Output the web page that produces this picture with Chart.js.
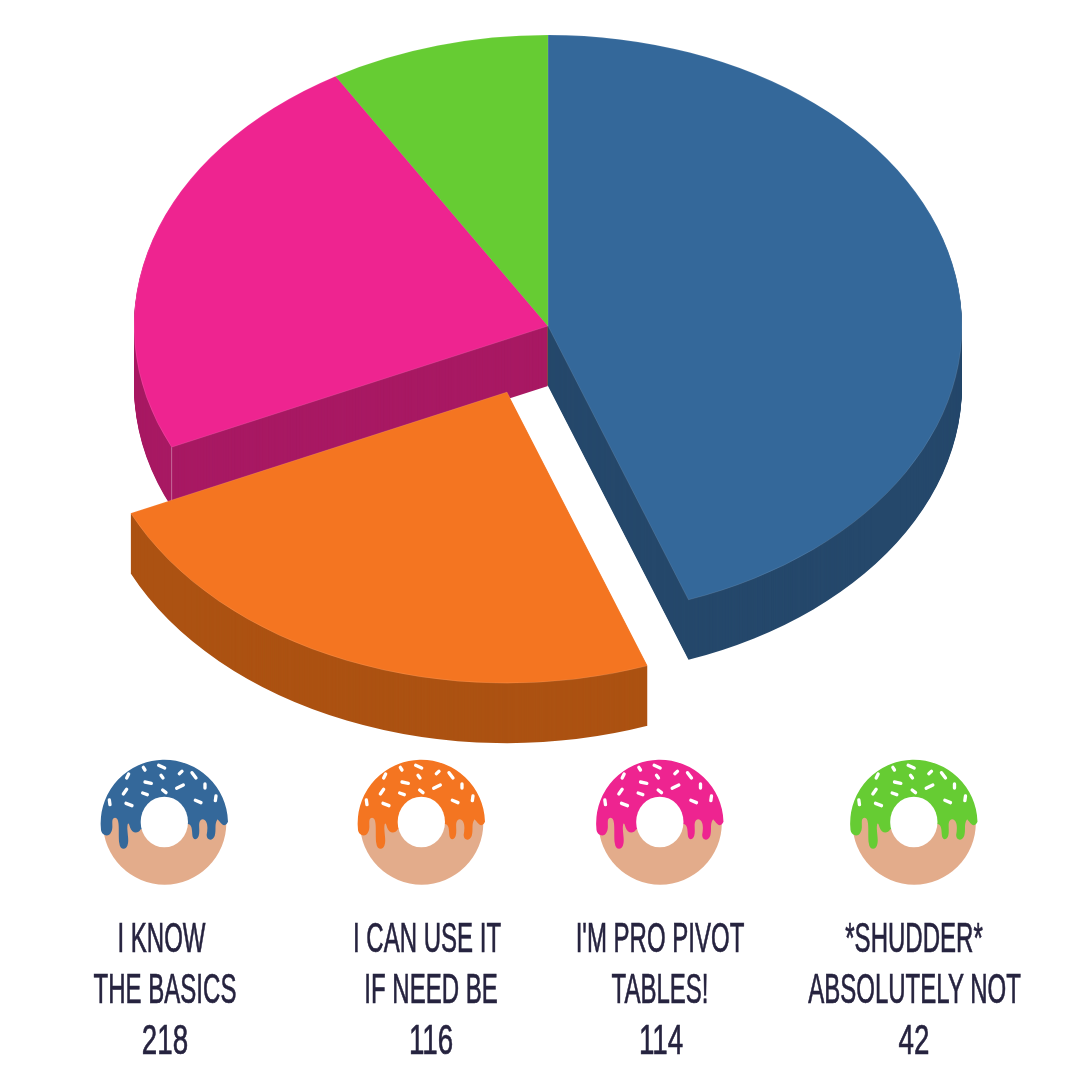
<!DOCTYPE html>
<html>
<head>
<meta charset="utf-8">
<title>Pivot tables</title>
<script src="https://cdn.jsdelivr.net/npm/chart.js@4/dist/chart.umd.min.js"></script>
<style>
  html, body { margin: 0; padding: 0; background: #fff; }
  #wrap { position: relative; width: 1080px; height: 1080px; overflow: hidden; }
  #pie { position: absolute; left: 0; top: 0; }
  #legend { position: absolute; left: 0; top: 0; }
  #legend text { font-family: "Liberation Sans Narrow", "Liberation Sans", sans-serif; font-size: 42px; fill: #26233f; stroke: #26233f; stroke-width: 0.7px; text-anchor: middle; }
</style>
</head>
<body>
<div id="wrap">
  <canvas id="pie" width="1080" height="1080"></canvas>
  <svg id="legend" width="1080" height="1080" xmlns="http://www.w3.org/2000/svg"></svg>
</div>
<script>
// data
const categories = ['I KNOW|THE BASICS', 'I CAN USE IT|IF NEED BE', "I'M PRO PIVOT|TABLES!", '*SHUDDER*|ABSOLUTELY NOT'];
const values = [218, 116, 114, 42];
const topColors = ['#34689a', '#f47521', '#ee2490', '#66cc33'];
const wallColors = ['#25486b', '#ac5212', '#a81963', '#4c9926'];

// fake 3D settings
const PIE_X = 548, PIE_Y = 326, TILT = 0.703, DEPTH = 60;
const PULLED = 1, PULL_X = -41, PULL_Y = 94;
// back to front, so the nearer walls cover the ones behind
const WALL_ORDER = [3, 2, 0, 1];

// legend layout: line centres per column
const iconX = [164.5, 421.5, 660, 914];
const lineX = [[161.5, 165, 165], [427, 431, 431], [660, 660, 661], [914, 914.5, 914]];
const lineY = [952, 1003, 1054];
const TEXT_SQUEEZE = 0.572;
const NUMBER_SQUEEZE = 0.66;

function wallOptions(color) {
  return { backgroundColor: color, borderColor: 'transparent', borderWidth: 0, borderAlign: 'center',
    borderJoinStyle: 'round', borderRadius: 0, offset: 0, spacing: 0, circular: true };
}

const tiltPlugin = {
  id: 'tilt',
  afterDatasetsUpdate(chart) {
    // pull one slice out of the pie
    const arc = chart.getDatasetMeta(0).data[PULLED];
    arc.x += PULL_X;
    arc.y += PULL_Y;
  },
  beforeDatasetsDraw(chart) {
    const { ctx, width, height } = chart;
    const arcs = chart.getDatasetMeta(0).data;
    const tilt = () => {
      ctx.translate(PIE_X, PIE_Y);
      ctx.scale(1, TILT);
      ctx.translate(-width / 2, -height / 2);
    };
    // walls: stack darker copies below the top face
    WALL_ORDER.forEach(i => {
      const arc = arcs[i];
      const own = arc.options;
      arc.options = wallOptions(wallColors[i]);
      for (let k = DEPTH; k > 0; k--) {
        ctx.save();
        ctx.translate(0, k);
        tilt();
        arc.draw(ctx);
        ctx.restore();
      }
      arc.options = own;
    });
    // faint corner line on the pink wall
    const pink = arcs[2];
    const cornerX = PIE_X + Math.cos(pink.startAngle) * pink.outerRadius;
    const cornerY = PIE_Y + Math.sin(pink.startAngle) * pink.outerRadius * TILT;
    ctx.save();
    ctx.strokeStyle = 'rgba(255,255,255,0.35)';
    ctx.lineWidth = 1;
    ctx.beginPath();
    ctx.moveTo(cornerX, cornerY);
    ctx.lineTo(cornerX, cornerY + DEPTH);
    ctx.stroke();
    ctx.restore();
    // top faces are drawn by the chart itself under the same transform
    ctx.save();
    tilt();
  },
  afterDatasetsDraw(chart) {
    chart.ctx.restore();
  }
};

new Chart(document.getElementById('pie'), {
  type: 'pie',
  data: {
    labels: categories.map(c => c.replace('|', ' ')),
    datasets: [{
      data: values,
      backgroundColor: topColors,
      borderColor: 'rgba(255,255,255,0.12)',
      borderWidth: 1,
      clip: false
    }]
  },
  options: {
    responsive: false,
    animation: false,
    radius: 414,
    layout: { padding: 0 },
    events: [],
    plugins: { legend: { display: false }, tooltip: { enabled: false } }
  },
  plugins: [tiltPlugin]
});

// doughnut icons and labels
const sprinkles = [[160,52,165,60],[206,46,224,54],[110,84,116,72],[268,71,276,64],[306,68,318,84],[213,76,219,84],
  [165,96,184,100],[345,102,345,114],[260,115,280,105],[100,132,110,118],[158,129,172,134],[218,120,228,128],
  [378,138,376,152],[316,151,333,158],[58,150,60,164],[108,160,126,167]];
const glazePath = 'M32 225 A191 191 0 0 1 414 215 C402 238 392 218 383 208 C372 222 380 240 374 258 C368 274 350 272 350 255 ' +
  'C354 235 354 210 338 208 C320 212 332 240 326 258 C320 272 308 270 307 255 C306 240 306 222 293 222 L152 238 ' +
  'C145 252 126 252 120 232 C117 218 112 214 112 236 C113 255 116 265 114 280 C111 302 90 302 88 280 C84 250 92 203 75 203 ' +
  'C60 205 72 230 64 245 C56 264 36 257 33 240 Z';

let svg = '';
categories.forEach((cat, i) => {
  const dots = sprinkles.map(s => `<line x1="${s[0]}" y1="${s[1]}" x2="${s[2]}" y2="${s[3]}"/>`).join('');
  svg += `<g transform="translate(${iconX[i] - 74.5},750) scale(0.3333)">` +
    `<circle cx="224" cy="219" r="185" fill="#e3ac8b"/>` +
    `<path d="${glazePath}" fill="${topColors[i]}"/>` +
    `<ellipse cx="223" cy="216" rx="71" ry="76" fill="#fff"/>` +
    `<g stroke="#fff" stroke-width="10" stroke-linecap="round">${dots}</g></g>`;
  const lines = cat.split('|').concat(String(values[i]));
  lines.forEach((line, j) => {
    const squeeze = j === 2 ? NUMBER_SQUEEZE : TEXT_SQUEEZE;
    svg += `<text transform="translate(${lineX[i][j]},${lineY[j]}) scale(${squeeze},1)">${line}</text>`;
  });
});
document.getElementById('legend').innerHTML = svg;
</script>
</body>
</html>
